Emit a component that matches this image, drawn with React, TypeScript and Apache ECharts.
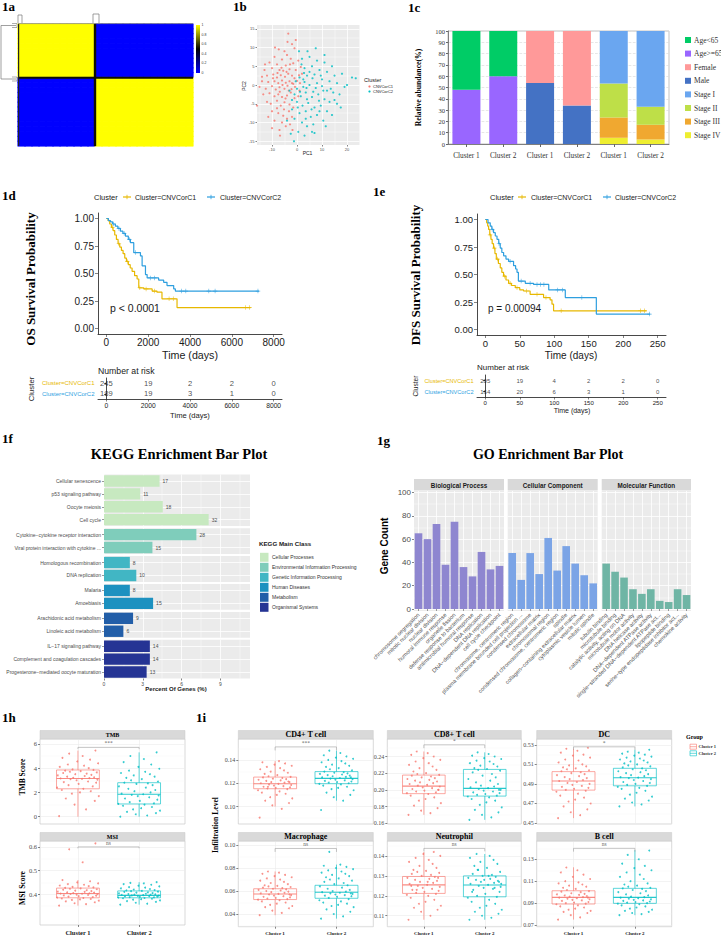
import React, { useEffect, useRef } from "react";
import * as echarts from "echarts";

const SANS = "'Liberation Sans', Arial, Helvetica, sans-serif";
const SERIF = "'Liberation Serif', 'Times New Roman', Times, serif";
const RED = "#F8766D";
const CYAN = "#00BFC4";
const KM1 = "#E7B800";
const KM2 = "#2E9FDF";
const PLUS = "path://M0,4.3H10V5.7H0Z M4.3,0H5.7V10H4.3Z";

// ---------- 1a consensus matrix ----------
const SAMPLE_CLUSTER = [1,1,1,1,1,1,1,1,1,1,1,2,2,2,2,2,2,2,2,2,2,2,2,2,2];
const COLORBAR_LABELS = ["1", "0.8", "0.6", "0.4", "0.2", "0"];

// ---------- 1b PCA ----------
const PCA_C1 = [[-3.5,13.7],[-2,10.9],[-7.3,9.5],[-5,9],[-1,9.8],[-4,8],[-9,7.5],[-6,6.8],[-2.5,7],[-11,6],[-8,5.5],[-4.5,5.2],[-1.5,5.8],[0.5,6.5],[-13,4],[-10,4.5],[-7,4],[-5.5,3.8],[-3,4.2],[-0.5,4],[1.5,4.8],[-12,2.5],[-9.5,2.8],[-8,2],[-6.5,2.6],[-4.8,2.2],[-3.5,3],[-2,2.5],[-1,1.8],[0.8,2.6],[2,3],[-14,1],[-11.5,0.8],[-9,1],[-7.5,0.5],[-6,1.2],[-4.5,0.6],[-3,1],[-1.5,0.3],[0,1.1],[1.2,0.5],[-15,-0.5],[-12.5,-1],[-10,-0.3],[-8.5,-1.2],[-7,-0.6],[-5,-1],[-3.8,-0.2],[-2.2,-1.1],[-0.8,-0.5],[1,-1.5],[-13.5,-2.5],[-11,-2.2],[-9,-3],[-7.5,-2.5],[-6,-3.2],[-4,-2.8],[-2.5,-2],[-1,-3.5],[-12,-4.5],[-10.5,-5],[-8,-4.2],[-6.5,-5.5],[-5,-4.6],[-3,-5.2],[-1.5,-6],[-16,-5.5],[-10,-7],[-7.5,-7.5],[-5.5,-8.2],[-3.2,-7],[-9,-9.5],[-6,-10],[-4,-9],[-2,-8.5],[-10,-11.5],[-7,-12],[-4.5,-11],[-8,-6.2],[-11.5,-8.5],[-2.8,-10.5],[-6.8,-13.5],[-14,2.2],[-12.8,5.5],[-3.8,11.5],[-8.8,10],[-0.5,12],[-5.2,-6.5],[0.5,-3],[-1.8,-12],[-6.2,4.6],[-4.2,3.5],[-2.8,5.5],[-7.8,3.2],[-5.8,0],[-3.3,-1.5],[-9.6,1.8],[-6.9,-1.8],[-2,0.5],[-4.6,-3.6]];
const PCA_C2 = [[2,7],[5,7.5],[8,6.5],[11,6],[14,5],[18,3],[22,2],[23.5,1.8],[3,4.5],[6,5],[9,4],[12,3.5],[15,2.5],[1,2],[4,2.5],[7,2.8],[10,1.5],[13,1],[16,0.5],[19,-0.5],[0,-1],[2.5,-0.5],[5,0],[7.5,-0.8],[10,-0.3],[12,-1.5],[14.5,-2],[17,-2.5],[-1,-2.5],[1.5,-3],[3.5,-2],[6,-3.2],[8.5,-2.5],[11,-3.8],[13,-4.5],[16,-5],[0,-4.5],[2.2,-5.5],[4.5,-4.8],[7,-6],[9.5,-5.5],[12,-7],[14,-8],[-2,-6.5],[1,-7.5],[3.5,-7],[5.5,-8.5],[8,-8],[10.5,-9.5],[-1,-9],[2,-10],[4,-11],[6.5,-10.5],[-2.5,-13],[0.5,-12.5],[3,-13.5],[6,-12.5],[-1.2,-15],[5,3.5],[3,0.8],[8,0.5],[6.5,-1.8],[4,-3.8],[9,-7],[11.5,-11],[17.5,-6],[20,0],[1.8,5.5],[4.2,9],[7.5,9.8],[0.8,9],[9.5,2.5],[-0.5,1],[-3,-1.5],[-2,-4],[2.5,1.5],[5.8,-6.5],[10.5,-1.5],[15,-4],[7,-12.8],[-4,-9.5],[11,8],[13.5,-1],[3.5,-9],[1.2,-1.8],[3.8,-0.8],[6.2,1.8],[8.8,-4.2],[0.3,-6],[2.8,3.2]];
const PCA_X_TICKS = [-10, 0, 10, 20];
const PCA_X_MINOR = [-15, -5, 5, 15];
const PCA_Y_TICKS = [-15, -10, -5, 0, 5, 10, 15];
const PCA_Y_MINOR = [-12.5, -7.5, -2.5, 2.5, 7.5, 12.5];

// ---------- 1c composition ----------
const COMP_GROUPS = ["Age", "Age", "Sex", "Sex", "Stage", "Stage"];
const COMP_LABELS = ["Cluster 1", "Cluster 2", "Cluster 1", "Cluster 2", "Cluster 1", "Cluster 2"];
const AGE_GE65 = [48, 60, 0, 0, 0, 0];
const AGE_LT65 = [52, 40, 0, 0, 0, 0];
const MALE = [0, 0, 54, 34, 0, 0];
const FEMALE = [0, 0, 46, 66, 0, 0];
const STAGE_IV = [0, 0, 0, 0, 5.5, 4];
const STAGE_III = [0, 0, 0, 0, 18, 13];
const STAGE_II = [0, 0, 0, 0, 30, 16];
const STAGE_I = [0, 0, 0, 0, 46.5, 67];
const COMP_LEGEND = ["Age<65", "Age>=65", "Female", "Male", "Stage I", "Stage II", "Stage III", "Stage IV"];
const COMP_COLOR: any = { "Age<65": "#00CC66", "Age>=65": "#9966FF", "Female": "#FF9999", "Male": "#4472C4", "Stage I": "#6AA6F0", "Stage II": "#BEDF48", "Stage III": "#F0A830", "Stage IV": "#EEEE30" };

// ---------- 1d / 1e survival ----------
const OS_C1 = [[0,1],[80,0.98],[160,0.95],[240,0.92],[320,0.89],[400,0.85],[480,0.81],[560,0.77],[640,0.74],[720,0.71],[800,0.68],[880,0.64],[960,0.61],[1050,0.58],[1140,0.55],[1230,0.52],[1350,0.48],[1470,0.45],[1550,0.37],[1790,0.36],[2190,0.34],[2420,0.33],[2660,0.27],[3380,0.19],[6900,0.19]];
const OS_C2 = [[0,1],[100,0.98],[200,0.97],[300,0.95],[430,0.93],[550,0.91],[670,0.885],[790,0.865],[910,0.84],[1050,0.81],[1150,0.78],[1310,0.69],[1630,0.66],[1710,0.57],[1870,0.49],[1950,0.46],[2500,0.44],[2740,0.42],[2900,0.39],[3220,0.36],[3300,0.34],[7300,0.34]];
const OS_C1_CENSOR = [[300,0.92],[600,0.77],[1000,0.61],[1600,0.37],[1900,0.36],[2300,0.34],[3000,0.27],[3200,0.27],[6650,0.19],[6850,0.19]];
const OS_C2_CENSOR = [[350,0.95],[600,0.91],[850,0.865],[1100,0.81],[1400,0.69],[2100,0.46],[2300,0.46],[3600,0.34],[3800,0.34],[4900,0.34],[5200,0.34],[7250,0.34]];
const OS_TICKS = [0, 2000, 4000, 6000, 8000];
const OS_RISK_C1 = [245, 19, 2, 2, 0];
const OS_RISK_C2 = [189, 19, 3, 1, 0];

const DFS_C1 = [[0,1],[2,0.97],[3.5,0.94],[4.8,0.91],[6.5,0.86],[8.2,0.82],[10,0.78],[12,0.74],[14,0.69],[16,0.64],[19,0.6],[21.7,0.56],[24,0.52],[26.5,0.485],[30,0.45],[33.8,0.42],[38,0.4],[43.5,0.38],[50,0.36],[55.5,0.35],[65,0.32],[84.5,0.29],[94,0.27],[96.7,0.23],[99,0.17],[234,0.17]];
const DFS_C2 = [[0,1],[4,0.97],[7.2,0.94],[9.5,0.91],[12,0.88],[14.5,0.85],[17,0.82],[19.5,0.78],[21.7,0.74],[24,0.7],[26.6,0.67],[30,0.64],[33.8,0.62],[41,0.58],[44,0.55],[46,0.52],[48,0.44],[58,0.42],[70,0.41],[92,0.36],[116,0.29],[161,0.14],[239,0.14]];
const DFS_C1_CENSOR = [[7,0.86],[13,0.74],[18,0.64],[28,0.485],[36,0.42],[46,0.38],[60,0.35],[75,0.32],[88,0.29],[110,0.17],[225,0.17],[231,0.17]];
const DFS_C2_CENSOR = [[10,0.91],[20,0.78],[36,0.62],[52,0.44],[65,0.42],[75,0.41],[80,0.41],[85,0.41],[105,0.36],[112,0.36],[140,0.29],[238,0.14]];
const DFS_TICKS = [0, 50, 100, 150, 200, 250];
const DFS_RISK_C1 = [205, 19, 4, 2, 2, 0];
const DFS_RISK_C2 = [164, 20, 6, 3, 1, 0];
const RISK_ROWS = ["Cluster=CNVCorC1", "Cluster=CNVCorC2"];

// ---------- 1f KEGG ----------
const KEGG_TERMS = ["Cellular senescence", "p53 signaling pathway", "Oocyte meiosis", "Cell cycle", "Cytokine\u2212cytokine receptor interaction", "Viral protein interaction with cytokine ...", "Homologous recombination", "DNA replication", "Malaria", "Amoebiasis", "Arachidonic acid metabolism", "Linoleic acid metabolism", "IL\u221217 signaling pathway", "Complement and coagulation cascades", "Progesterone\u2212mediated oocyte maturation"];
const KEGG_PCT = [4.3, 2.8, 4.55, 8.1, 7.15, 3.75, 2.0, 2.5, 2.0, 3.8, 2.25, 1.5, 3.55, 3.55, 3.3];
const KEGG_COUNT = [17, 11, 18, 32, 28, 15, 8, 10, 8, 15, 9, 6, 14, 14, 13];
const KEGG_CLASS = [0, 0, 0, 0, 1, 1, 2, 2, 3, 3, 4, 4, 5, 5, 5];
const KEGG_CLASSES = ["Cellular Processes", "Environmental Information Processing", "Genetic Information Processing", "Human Diseases", "Metabolism", "Organismal Systems"];
const KEGG_COLORS = ["#C7E9C0", "#7FCDBB", "#41B6C4", "#1D91C0", "#225EA8", "#253494"];
const KEGG_TICKS = [0, 3, 6, 9];

// ---------- 1g GO ----------
const GO_BP_TERMS = ["chromosome segregation", "mitotic nuclear division", "nuclear division", "humoral immune response", "organelle fission", "defense response to bacterium", "antimicrobial humoral response", "DNA replication", "DNA\u2212dependent DNA replication", "cell cycle checkpoint"];
const GO_BP_COUNT = [65, 60, 73, 38, 75, 36, 28, 49, 34, 37];
const GO_CC_TERMS = ["chromosome, centromeric region", "plasma membrane bounded cell projection ...", "condensed chromosome", "extracellular matrix", "chromosomal region", "condensed chromosome, centromeric region", "spindle", "collagen\u2212containing extracellular matrix", "cytoplasmic vesicle lumen", "mitotic spindle"];
const GO_CC_COUNT = [48, 25, 48, 30, 61, 33, 54, 39, 29, 22];
const GO_MF_TERMS = ["tubulin binding", "microtubule binding", "catalytic activity, acting on DNA", "microtubule motor activity", "DNA helicase activity", "DNA\u2212dependent ATPase activity", "single\u2212stranded DNA\u2212dependent ATPase act...", "lipopeptide binding", "serine\u2212type endopeptidase inhibitor act...", "chemokine activity"];
const GO_MF_COUNT = [39, 32, 27, 17, 13, 17, 7, 6, 17, 12];
const GO_TICKS = [0, 20, 40, 60, 80, 100];
const GO_MINOR = [10, 30, 50, 70, 90];

// ---------- 1h / 1i boxplots ----------
const JIT = [-0.28,0.12,-0.05,0.25,-0.18,0.31,-0.09,0.03,0.19,-0.24,0.08,-0.31,0.22,-0.14,0.01,0.27,-0.21,0.15,-0.02,0.29,-0.11,0.06,-0.26,0.17,-0.07,0.24,-0.16,0.1,-0.3,0.2,-0.04,0.13,-0.22,0.28,-0.12,0.04,-0.19,0.23,-0.08,0.16,-0.27,0.09,-0.15,0.3,-0.01,0.18,-0.23,0.07,-0.13,0.26];

const TMB_C1 = [0.05,0.6,1.0,1.3,1.5,1.7,1.9,2.0,2.1,2.2,2.3,2.4,2.5,2.6,2.7,2.8,2.85,2.9,3.0,3.05,3.1,3.12,3.15,3.18,3.2,3.25,3.3,3.35,3.4,3.45,3.5,3.55,3.6,3.65,3.7,3.75,3.8,3.85,3.9,4.0,4.1,4.2,4.3,4.4,4.55,4.7,4.85,5.0,5.2,5.45];
const TMB_C2 = [0.0,0.1,0.2,0.3,0.4,0.5,0.6,0.7,0.8,0.9,1.0,1.05,1.1,1.2,1.3,1.4,1.5,1.6,1.7,1.75,1.8,1.85,1.9,2.0,2.1,2.2,2.3,2.4,2.5,2.6,2.7,2.75,2.8,2.9,3.0,3.1,3.2,3.3,3.4,3.5,3.6,3.7,3.8,3.95,4.1,4.3,4.5,4.75,5.0,5.3];
const TMB_BOX = [[0, 2.3, 3.15, 3.85, 5.45], [0, 1.05, 1.85, 2.8, 5.3]];
const MSI_C1 = [0.352,0.358,0.362,0.366,0.37,0.373,0.376,0.378,0.38,0.382,0.384,0.386,0.388,0.39,0.392,0.394,0.395,0.397,0.398,0.4,0.401,0.402,0.403,0.404,0.405,0.407,0.408,0.41,0.411,0.413,0.415,0.417,0.419,0.421,0.423,0.425,0.427,0.429,0.431,0.434,0.437,0.44,0.443,0.446,0.45,0.455,0.46,0.535,0.59,0.615];
const MSI_C2 = [0.356,0.36,0.364,0.368,0.371,0.374,0.377,0.379,0.381,0.383,0.384,0.386,0.387,0.388,0.389,0.39,0.391,0.392,0.393,0.394,0.395,0.396,0.397,0.398,0.399,0.4,0.401,0.402,0.404,0.405,0.407,0.408,0.41,0.411,0.413,0.414,0.416,0.418,0.42,0.422,0.425,0.428,0.43,0.433,0.436,0.44,0.443,0.446,0.448,0.451];
const MSI_BOX = [[0.352, 0.385, 0.403, 0.426, 0.46], [0.356, 0.385, 0.395, 0.414, 0.451]];
const CD4_C1 = [0.0905,0.098,0.101,0.103,0.105,0.107,0.108,0.11,0.111,0.112,0.113,0.114,0.115,0.1155,0.116,0.1165,0.117,0.1175,0.118,0.1185,0.119,0.1195,0.12,0.1205,0.121,0.1215,0.122,0.1225,0.123,0.1235,0.124,0.1245,0.125,0.1255,0.126,0.127,0.128,0.129,0.13,0.131,0.132,0.133,0.134,0.135,0.136,0.137,0.138,0.139,0.117,0.121];
const CD4_C2 = [0.097,0.105,0.108,0.11,0.112,0.114,0.115,0.116,0.117,0.118,0.119,0.1195,0.12,0.1205,0.121,0.1215,0.122,0.1225,0.123,0.1235,0.124,0.1245,0.125,0.1255,0.126,0.1265,0.127,0.1275,0.128,0.1285,0.129,0.1295,0.13,0.131,0.132,0.133,0.134,0.135,0.136,0.137,0.138,0.139,0.14,0.141,0.142,0.143,0.144,0.146,0.148,0.125];
const CD4_BOX = [[0.1, 0.1153, 0.1196, 0.1253, 0.139], [0.105, 0.1196, 0.1242, 0.13, 0.148]];
const CD8_C1 = [0.17,0.172,0.175,0.178,0.181,0.184,0.187,0.189,0.191,0.193,0.195,0.196,0.197,0.198,0.199,0.2,0.201,0.202,0.203,0.204,0.205,0.206,0.207,0.208,0.209,0.21,0.211,0.212,0.213,0.214,0.215,0.216,0.217,0.218,0.219,0.22,0.222,0.224,0.226,0.228,0.23,0.232,0.234,0.236,0.238,0.24,0.242,0.244,0.246,0.2];
const CD8_C2 = [0.164,0.167,0.17,0.173,0.176,0.179,0.182,0.185,0.187,0.189,0.191,0.192,0.193,0.194,0.195,0.196,0.197,0.198,0.199,0.2,0.201,0.202,0.203,0.204,0.205,0.207,0.209,0.211,0.213,0.215,0.217,0.219,0.221,0.223,0.224,0.225,0.226,0.228,0.229,0.231,0.232,0.234,0.235,0.237,0.238,0.24,0.241,0.243,0.245,0.2];
const CD8_BOX = [[0.17, 0.1954, 0.2044, 0.2177, 0.246], [0.164, 0.1925, 0.2017, 0.2245, 0.245]];
const DC_C1 = [0.455,0.458,0.461,0.464,0.467,0.47,0.472,0.474,0.476,0.478,0.48,0.482,0.483,0.484,0.485,0.486,0.487,0.488,0.489,0.49,0.491,0.492,0.493,0.494,0.495,0.496,0.497,0.498,0.499,0.5,0.501,0.502,0.503,0.504,0.505,0.506,0.507,0.508,0.509,0.51,0.512,0.514,0.515,0.517,0.519,0.52,0.522,0.524,0.526,0.527];
const DC_C2 = [0.467,0.469,0.471,0.473,0.475,0.477,0.479,0.481,0.483,0.485,0.486,0.487,0.488,0.489,0.49,0.491,0.492,0.493,0.494,0.495,0.496,0.4965,0.497,0.498,0.499,0.5,0.501,0.502,0.503,0.504,0.505,0.506,0.507,0.508,0.509,0.51,0.511,0.512,0.513,0.514,0.515,0.516,0.517,0.518,0.519,0.52,0.521,0.522,0.523,0.525];
const DC_BOX = [[0.455, 0.4837, 0.493, 0.5026, 0.526], [0.467, 0.4881, 0.4964, 0.506, 0.525]];
const MAC_C1 = [0.039,0.041,0.043,0.045,0.046,0.047,0.048,0.049,0.05,0.051,0.052,0.0525,0.053,0.0535,0.054,0.0545,0.055,0.0555,0.056,0.0565,0.057,0.0575,0.058,0.0585,0.059,0.0595,0.06,0.0605,0.061,0.0615,0.062,0.0625,0.063,0.0635,0.064,0.0645,0.065,0.066,0.067,0.068,0.069,0.07,0.071,0.072,0.073,0.074,0.075,0.076,0.077,0.057];
const MAC_C2 = [0.036,0.038,0.04,0.042,0.044,0.046,0.047,0.048,0.049,0.05,0.051,0.052,0.053,0.054,0.055,0.0555,0.056,0.0565,0.057,0.0575,0.058,0.0585,0.059,0.0595,0.06,0.061,0.062,0.063,0.064,0.065,0.066,0.067,0.068,0.069,0.07,0.071,0.072,0.073,0.074,0.075,0.076,0.077,0.078,0.079,0.08,0.081,0.082,0.083,0.094,0.058];
const MAC_BOX = [[0.039, 0.0526, 0.0574, 0.062, 0.077], [0.036, 0.0537, 0.059, 0.065, 0.083]];
const NEU_C1 = [0.108,0.11,0.112,0.113,0.114,0.115,0.116,0.117,0.118,0.119,0.12,0.1205,0.121,0.1215,0.122,0.1225,0.123,0.1235,0.124,0.1245,0.125,0.1255,0.126,0.1265,0.127,0.1275,0.128,0.1285,0.129,0.1295,0.13,0.1305,0.131,0.1315,0.132,0.1325,0.133,0.134,0.135,0.136,0.137,0.138,0.139,0.14,0.141,0.142,0.125,0.127,0.123,0.129];
const NEU_C2 = [0.108,0.109,0.11,0.111,0.112,0.113,0.114,0.115,0.116,0.117,0.118,0.119,0.1195,0.12,0.121,0.122,0.123,0.1235,0.124,0.1245,0.125,0.1255,0.126,0.1265,0.127,0.1275,0.128,0.1285,0.129,0.1295,0.13,0.1305,0.131,0.132,0.133,0.134,0.135,0.136,0.137,0.138,0.139,0.14,0.141,0.126,0.128,0.124,0.122,0.13,0.133,0.127];
const NEU_BOX = [[0.108, 0.1212, 0.1255, 0.1297, 0.142], [0.108, 0.1195, 0.1254, 0.13, 0.141]];
const BC_C1 = [0.075,0.077,0.079,0.081,0.082,0.083,0.084,0.085,0.086,0.087,0.088,0.089,0.0895,0.09,0.0905,0.091,0.092,0.0925,0.093,0.0935,0.094,0.0945,0.095,0.0955,0.096,0.0965,0.097,0.0975,0.098,0.0985,0.099,0.1,0.1005,0.101,0.102,0.103,0.104,0.105,0.106,0.107,0.108,0.109,0.11,0.112,0.114,0.116,0.118,0.12,0.1225,0.095];
const BC_C2 = [0.079,0.08,0.081,0.082,0.083,0.084,0.085,0.086,0.087,0.088,0.089,0.0895,0.09,0.0905,0.091,0.0915,0.092,0.0925,0.093,0.0935,0.094,0.0945,0.095,0.0955,0.096,0.097,0.098,0.099,0.1,0.101,0.102,0.103,0.1035,0.104,0.105,0.106,0.107,0.108,0.11,0.112,0.114,0.116,0.118,0.12,0.122,0.124,0.126,0.13,0.134,0.138];
const BC_BOX = [[0.075, 0.0892, 0.0953, 0.1013, 0.1227], [0.079, 0.0898, 0.0953, 0.1035, 0.1384]];

function buildOption() {
  const grid: any[] = [], xAxis: any[] = [], yAxis: any[] = [], series: any[] = [], graphic: any[] = [], visualMap: any[] = [];
  const G = (left: number, top: number, width: number, height: number, bg?: string, border?: string) => {
    grid.push({ left, top, width, height, show: !!(bg || border), backgroundColor: bg || "transparent", borderColor: border || "transparent", borderWidth: border ? 0.7 : 0 });
    return grid.length - 1;
  };
  const X = (c: any) => { xAxis.push(c); return xAxis.length - 1; };
  const Y = (c: any) => { yAxis.push(c); return yAxis.length - 1; };
  const T = (x: number, y: number, text: string, o: any = {}) => {
    graphic.push({ type: "text", x, y, rotation: o.rot || 0, z: 100, silent: true,
      style: { text, fontSize: o.size || 8, fontFamily: o.font || SANS, fontWeight: o.bold ? "bold" : "normal", fill: o.color || "#1A1A1A",
        align: o.align || "left", verticalAlign: o.va || "middle", textAlign: o.align || "left", textVerticalAlign: o.va || "middle" } });
  };
  const RECT = (x: number, y: number, w: number, h: number, fill: any, stroke?: string, lw = 0.6) => {
    graphic.push({ type: "rect", z: 90, silent: true, shape: { x, y, width: w, height: h }, style: { fill, stroke: stroke || null, lineWidth: stroke ? lw : 0 } });
  };
  const PL = (points: number[][], stroke: string, lw = 0.8) => {
    graphic.push({ type: "polyline", z: 95, silent: true, shape: { points }, style: { stroke, lineWidth: lw, fill: null } });
  };
  const VA = (gi: number, min: number, max: number, ticks: any, o: any = {}) => ({
    type: "value", gridIndex: gi, min, max, position: o.pos,
    axisLine: { show: !!o.line, onZero: false, lineStyle: { color: o.lineColor || "#1A1A1A", width: o.lineWidth || 0.8 } },
    axisTick: { show: !!o.tick, customValues: ticks, length: o.tickLen || 2.5, lineStyle: { color: o.tickColor || "#333333", width: 0.6 } },
    axisLabel: { show: !!o.label, customValues: ticks, formatter: o.fmt || ((v: number) => String(v)), fontSize: o.size || 7, fontFamily: o.font || SANS, fontWeight: o.bold ? "bold" : "normal", color: o.color || "#4D4D4D", margin: o.margin == null ? 3 : o.margin },
    splitLine: { show: !!o.split, lineStyle: { color: o.splitColor || "#FFFFFF", width: o.splitWidth || 0.8, type: o.splitType || "solid" } },
    minorTick: { show: false }, minorSplitLine: { show: false },
  });

  // panel labels
  [["1a", 2, 6], ["1b", 233, 6], ["1c", 408, 7], ["1d", 2, 195], ["1e", 373, 191], ["1f", 2, 438], ["1g", 377, 440], ["1h", 2, 717], ["1i", 196, 717]].forEach((p: any) =>
    T(p[1], p[2], p[0], { size: 13, bold: true, font: SERIF, color: "#000" }));

  // ================= 1a heatmap =================
  const gA = G(18, 24, 175, 122);
  const ids = SAMPLE_CLUSTER.map((_, i) => "S" + (i + 1));
  const xa = X({ type: "category", gridIndex: gA, data: ids, show: false });
  const ya = Y({ type: "category", gridIndex: gA, data: ids, inverse: true, show: false });
  const heat: any[] = [];
  SAMPLE_CLUSTER.forEach((ci, i) => SAMPLE_CLUSTER.forEach((cj, j) => {
    const v = ci === cj ? 1 : 0;
    heat.push({ value: [i, j, v], itemStyle: { borderColor: v ? "#FFFF00" : "#0000FF", borderWidth: 0.6 } });
  }));
  series.push({ type: "heatmap", xAxisIndex: xa, yAxisIndex: ya, data: heat });
  visualMap.push({ show: false, type: "continuous", min: 0, max: 1, seriesIndex: series.length - 1, inRange: { color: ["#0000FF", "#000000", "#FFFF00"] } });
  PL([[95, 24], [95, 146]], "#111100", 2.4);
  PL([[18, 77.7], [193, 77.7]], "#111100", 2);
  PL([[18.6, 24], [18.6, 146]], "#222222", 1.2);
  PL([[18, 23.6], [193, 23.6]], "#888888", 0.8);
  PL([[18, 23], [18, 15], [22, 15], [22, 23]], "#777777", 0.7);
  PL([[93, 23], [93, 14], [99, 14], [99, 23]], "#777777", 0.7);
  PL([[16, 25.5], [1, 25.5], [1, 79], [16, 79]], "#777777", 0.7);
  PL([[12, 23.5], [17, 23.5], [17, 27.5], [12, 27.5]], "#777777", 0.6);
  PL([[12, 77], [17, 77], [17, 81], [12, 81]], "#777777", 0.6);
  RECT(196, 25, 4, 48, new echarts.graphic.LinearGradient(0, 0, 0, 1, [{ offset: 0, color: "#FFFF00" }, { offset: 0.5, color: "#000000" }, { offset: 1, color: "#0000FF" }]));
  COLORBAR_LABELS.forEach((l, k) => T(201.5, 25 + (k * 48) / 5, l, { size: 3.5, color: "#333" }));

  // ================= 1b PCA =================
  const gB = G(257, 25, 102.5, 120, "#EBEBEB");
  const xb = X(VA(gB, -16, 25, PCA_X_TICKS, { split: true, tick: true, label: true, size: 4, tickLen: 1.5, margin: 2.5 }));
  X(VA(gB, -16, 25, PCA_X_MINOR, { split: true, splitWidth: 0.4 }));
  const yb = Y(VA(gB, -16, 16, PCA_Y_TICKS, { split: true, tick: true, label: true, size: 4, tickLen: 1.5, margin: 2.5 }));
  Y(VA(gB, -16, 16, PCA_Y_MINOR, { split: true, splitWidth: 0.4 }));
  series.push({ type: "scatter", xAxisIndex: xb, yAxisIndex: yb, data: PCA_C1, symbolSize: 2.2, itemStyle: { color: RED } });
  series.push({ type: "scatter", xAxisIndex: xb, yAxisIndex: yb, data: PCA_C2, symbolSize: 2.2, itemStyle: { color: CYAN } });
  T(307.5, 153, "PC1", { size: 5, align: "center" });
  T(244, 86, "PC2", { size: 5, align: "center", rot: Math.PI / 2 });
  T(364, 80, "Cluster", { size: 5.5 });
  graphic.push({ type: "circle", z: 100, shape: { cx: 369.5, cy: 86.5, r: 1.1 }, style: { fill: RED } });
  graphic.push({ type: "circle", z: 100, shape: { cx: 369.5, cy: 91.5, r: 1.1 }, style: { fill: CYAN } });
  T(373, 86.5, "CNVCorC1", { size: 4 });
  T(373, 91.5, "CNVCorC2", { size: 4 });

  // ================= 1c composition =================
  const gC = G(448, 31, 221, 113, undefined, "#AAAAAA");
  const compIds = COMP_LABELS.map((l, i) => COMP_GROUPS[i] + " " + l);
  const xc = X({ type: "category", gridIndex: gC, data: compIds,
    axisLine: { show: true, lineStyle: { color: "#666", width: 0.8 } },
    axisTick: { show: true, alignWithLabel: true, length: 3, lineStyle: { color: "#666" } },
    axisLabel: { formatter: (_v: any, i: number) => COMP_LABELS[i], fontFamily: SERIF, fontSize: 7.3, color: "#333", margin: 8, interval: 0 } });
  const yc = Y({ type: "value", gridIndex: gC, min: 0, max: 100, interval: 10,
    axisLine: { show: true, onZero: false, lineStyle: { color: "#666", width: 0.8 } },
    axisTick: { show: true, length: 2, lineStyle: { color: "#666" } },
    axisLabel: { fontFamily: SERIF, fontSize: 6.5, color: "#333", margin: 3 },
    splitLine: { show: true, lineStyle: { color: "#DDDDDD", width: 0.7, type: "dashed" } } });
  const stack: any[] = [["Age>=65", AGE_GE65], ["Age<65", AGE_LT65], ["Male", MALE], ["Female", FEMALE], ["Stage IV", STAGE_IV], ["Stage III", STAGE_III], ["Stage II", STAGE_II], ["Stage I", STAGE_I]];
  stack.forEach(([name, d]) => series.push({ type: "bar", name, stack: "comp", xAxisIndex: xc, yAxisIndex: yc, data: d, barWidth: 28, itemStyle: { color: COMP_COLOR[name] } }));
  COMP_LEGEND.forEach((name, k) => {
    const y = 40 + k * 13.6;
    RECT(685, y - 3, 6, 6, COMP_COLOR[name]);
    T(694, y, name, { size: 7.5, font: SERIF, color: "#333" });
  });
  T(418, 87.5, "Relative abundance(%)", { size: 7.7, bold: true, font: SERIF, align: "center", rot: Math.PI / 2, color: "#000" });

  // ================= 1d / 1e survival =================
  const km = (c: any) => {
    const g = G(c.left, c.top, c.width, c.height);
    const xi = X(VA(g, c.xmin, c.xmax, c.ticks, { line: true, tick: true, label: true, size: c.tickSize, color: "#1A1A1A", margin: 3, tickLen: 3 }));
    const yi = Y(VA(g, -0.05, 1.05, [0, 0.25, 0.5, 0.75, 1], { line: true, tick: true, label: true, size: c.tickSize, color: "#1A1A1A", margin: 4, tickLen: 3, fmt: (v: number) => v.toFixed(2) }));
    [[c.c1, c.c1c, KM1], [c.c2, c.c2c, KM2]].forEach(([d, cens, col]: any) => {
      series.push({ type: "line", xAxisIndex: xi, yAxisIndex: yi, data: d, step: "end", symbol: "none", lineStyle: { color: col, width: 1.2 }, itemStyle: { color: col }, z: 3 });
      series.push({ type: "scatter", xAxisIndex: xi, yAxisIndex: yi, data: cens, symbol: PLUS, symbolSize: 4.5, itemStyle: { color: col }, z: 4 });
    });
    const tg = G(c.left, c.ttop, c.width, c.theight);
    const txi = X(VA(tg, c.xmin, c.xmax, c.ticks, { line: true, tick: true, label: true, size: c.tTickSize, color: "#1A1A1A", margin: 3, tickLen: 2.5 }));
    const tyi = Y({ type: "category", gridIndex: tg, data: RISK_ROWS, inverse: true,
      axisLine: { show: true, lineStyle: { color: "#1A1A1A", width: 0.8 } },
      axisTick: { show: true, alignWithLabel: true, length: 2, lineStyle: { color: "#333" } },
      axisLabel: { fontSize: c.rowSize, fontFamily: SANS, margin: 3.5, color: (v: string) => (v === RISK_ROWS[0] ? KM1 : KM2) } });
    const pts: any[] = [];
    c.ticks.forEach((t: number, k: number) => { pts.push([t, 0, c.r1[k]]); pts.push([t, 1, c.r2[k]]); });
    series.push({ type: "scatter", xAxisIndex: txi, yAxisIndex: tyi, data: pts, symbolSize: 1, itemStyle: { color: "rgba(0,0,0,0)" },
      label: { show: true, position: "inside", formatter: (p: any) => String(p.value[2]), fontSize: c.numSize, fontFamily: SANS, color: "#1A1A1A" } });
  };
  km({ left: 98, top: 213, width: 184, height: 121, xmin: -400, xmax: 8400, ticks: OS_TICKS, tickSize: 10, c1: OS_C1, c2: OS_C2, c1c: OS_C1_CENSOR, c2c: OS_C2_CENSOR,
    ttop: 378, theight: 21, tTickSize: 6.7, rowSize: 6, numSize: 7.6, r1: OS_RISK_C1, r2: OS_RISK_C2 });
  km({ left: 477, top: 214, width: 189, height: 121, xmin: -12, xmax: 262, ticks: DFS_TICKS, tickSize: 9.5, c1: DFS_C1, c2: DFS_C2, c1c: DFS_C1_CENSOR, c2c: DFS_C2_CENSOR,
    ttop: 375, theight: 22, tTickSize: 6, rowSize: 5.6, numSize: 6, r1: DFS_RISK_C1, r2: DFS_RISK_C2 });
  const kmLegend = (x0: number, xl1: number, xt1: number, xl2: number, xt2: number, y: number) => {
    T(x0, y, "Cluster", { size: 7.5 });
    PL([[xl1, y], [xl1 + 8, y]], KM1, 1.2); PL([[xl1 + 4, y - 2.2], [xl1 + 4, y + 2.2]], KM1, 0.8);
    T(xt1, y, "Cluster=CNVCorC1", { size: 7 });
    PL([[xl2, y], [xl2 + 8, y]], KM2, 1.2); PL([[xl2 + 4, y - 2.2], [xl2 + 4, y + 2.2]], KM2, 0.8);
    T(xt2, y, "Cluster=CNVCorC2", { size: 7 });
  };
  kmLegend(94, 123, 135, 207, 220, 197);
  kmLegend(490, 518, 531, 603, 615, 197);
  T(30, 279, "OS Survival Probability", { size: 13, bold: true, font: SERIF, align: "center", rot: Math.PI / 2, color: "#000" });
  T(415, 275, "DFS Survival Probability", { size: 13, bold: true, font: SERIF, align: "center", rot: Math.PI / 2, color: "#000" });
  T(190, 355, "Time (days)", { size: 10.7, align: "center" });
  T(571, 355, "Time (days)", { size: 10, align: "center" });
  T(110, 308, "p < 0.0001", { size: 10.5 });
  T(488, 308, "p = 0.00094", { size: 10 });
  T(98, 371, "Number at risk", { size: 8.7 });
  T(477, 367, "Number at risk", { size: 8 });
  T(190, 415, "Time (days)", { size: 7.6, align: "center" });
  T(572, 410.5, "Time (days)", { size: 7, align: "center" });
  T(31, 389, "Cluster", { size: 7.8, align: "center", rot: Math.PI / 2 });
  T(415, 386, "Cluster", { size: 6.6, align: "center", rot: Math.PI / 2 });

  // ================= 1f KEGG =================
  T(179, 454, "KEGG Enrichment Bar Plot", { size: 14.5, bold: true, font: SERIF, align: "center", color: "#000" });
  let top = 474.5;
  const U = 12.9, GAP = 2.1;
  KEGG_CLASSES.forEach((_cls, c) => {
    const idx = KEGG_CLASS.map((k, i) => (k === c ? i : -1)).filter((i) => i >= 0);
    const h = idx.length * U;
    const g = G(104, top, 146, h, "#EBEBEB");
    const last = c === KEGG_CLASSES.length - 1;
    const xi = X(VA(g, 0, 11.3, KEGG_TICKS, { split: true, tick: last, label: last, size: 5, tickLen: 2, margin: 3 }));
    X(VA(g, 0, 11.3, [1.5, 4.5, 7.5, 10.5], { split: true, splitWidth: 0.4 }));
    const yi = Y({ type: "category", gridIndex: g, inverse: true, data: idx.map((i) => KEGG_TERMS[i]),
      axisLine: { show: false }, axisTick: { show: true, alignWithLabel: true, length: 2, lineStyle: { color: "#333", width: 0.5 } },
      axisLabel: { interval: 0, fontSize: 5, fontFamily: SANS, color: "#4D4D4D", margin: 3 },
      splitLine: { show: true, alignWithLabel: true, lineStyle: { color: "#FFFFFF", width: 0.8 } } });
    series.push({ type: "bar", xAxisIndex: xi, yAxisIndex: yi, data: idx.map((i) => KEGG_PCT[i]), barWidth: "88%", itemStyle: { color: KEGG_COLORS[c] },
      label: { show: true, position: "right", distance: 3, fontSize: 5, fontFamily: SANS, color: "#4D4D4D", formatter: (p: any) => String(KEGG_COUNT[idx[p.dataIndex]]) } });
    top += h + GAP;
  });
  T(176, 689, "Percent Of Genes (%)", { size: 6, bold: true, align: "center" });
  T(259, 543, "KEGG Main Class", { size: 6.2, bold: true });
  KEGG_CLASSES.forEach((name, k) => {
    const y = 557.3 + k * 10;
    RECT(260, y - 4.5, 8.5, 9, KEGG_COLORS[k]);
    T(272, y, name, { size: 5, color: "#333" });
  });

  // ================= 1g GO =================
  T(548, 454, "GO Enrichment Bar Plot", { size: 14, bold: true, font: SERIF, align: "center", color: "#000" });
  const facets = [
    { title: "Biological Process", terms: GO_BP_TERMS, counts: GO_BP_COUNT, color: "#8E86D0", left: 414, width: 90 },
    { title: "Cellular Component", terms: GO_CC_TERMS, counts: GO_CC_COUNT, color: "#7BA4E6", left: 507.7, width: 90 },
    { title: "Molecular Function", terms: GO_MF_TERMS, counts: GO_MF_COUNT, color: "#6FB5A5", left: 601.7, width: 89.3 },
  ];
  facets.forEach((f, k) => {
    const g = G(f.left, 491, f.width, 120, "#EBEBEB");
    const xi = X({ type: "category", gridIndex: g, data: f.terms,
      axisLine: { show: false }, axisTick: { show: true, alignWithLabel: true, length: 2, lineStyle: { color: "#333", width: 0.5 } },
      axisLabel: { interval: 0, rotate: 45, fontSize: 5.6, fontFamily: SANS, color: "#4D4D4D", margin: 3 },
      splitLine: { show: true, alignWithLabel: true, lineStyle: { color: "#FFFFFF", width: 0.8 } } });
    const yi = Y(VA(g, -1.7, 101.3, GO_TICKS, { split: true, tick: k === 0, label: k === 0, size: 8, tickLen: 2, margin: 3 }));
    Y(VA(g, -1.7, 101.3, GO_MINOR, { split: true, splitWidth: 0.4 }));
    series.push({ type: "bar", xAxisIndex: xi, yAxisIndex: yi, data: f.counts, barWidth: "85%", itemStyle: { color: f.color } });
    RECT(f.left, 479, f.width, 11.5, "#D9D9D9");
    T(f.left + f.width / 2, 485, f.title, { size: 6.3, bold: true, align: "center" });
  });
  T(384, 546, "Gene Count", { size: 10, bold: true, align: "center", rot: Math.PI / 2, color: "#000" });

  // ================= 1h / 1i boxplots =================
  const boxRender = (color: string) => (_params: any, api: any) => {
    const x = api.value(0);
    const p = [1, 2, 3, 4, 5].map((d) => api.coord([x, api.value(d)]));
    const hw = api.size([0.7, 0])[0] / 2;
    const st = { stroke: color, lineWidth: 0.8, opacity: 0.8 };
    return { type: "group", children: [
      { type: "line", shape: { x1: p[0][0], y1: p[0][1], x2: p[1][0], y2: p[1][1] }, style: st },
      { type: "line", shape: { x1: p[3][0], y1: p[3][1], x2: p[4][0], y2: p[4][1] }, style: st },
      { type: "rect", shape: { x: p[3][0] - hw, y: p[3][1], width: 2 * hw, height: p[1][1] - p[3][1] }, style: { fill: "rgba(255,255,255,0)", stroke: color, lineWidth: 0.8, opacity: 0.8 } },
      { type: "line", shape: { x1: p[2][0] - hw, y1: p[2][1], x2: p[2][0] + hw, y2: p[2][1] }, style: { stroke: color, lineWidth: 1.1, opacity: 0.85 } },
    ] };
  };
  const boxPanel = (p: any) => {
    const g = G(p.left, p.top, p.width, p.height, "#FFFFFF", "#C8C8C8");
    const xi = X(VA(g, p.xmin, p.xmax, [1, 2], { split: true, splitColor: "#EBEBEB", splitWidth: 0.6, tick: p.xlab, label: p.xlab,
      fmt: (v: number) => (v === 1 ? "Cluster 1" : "Cluster 2"), font: SERIF, bold: true, size: p.xsize, color: "#1A1A1A", margin: 4, tickLen: 2 }));
    const yi = Y(VA(g, p.ymin, p.ymax, p.ticks, { split: true, splitColor: "#EBEBEB", splitWidth: 0.6, tick: true, label: true, fmt: p.fmt, font: SERIF, size: p.ysize, color: "#4D4D4D", margin: 3, tickLen: 2 }));
    Y(VA(g, p.ymin, p.ymax, p.minor, { split: true, splitColor: "#F4F4F4", splitWidth: 0.4 }));
    [[1, p.box[0], RED, p.pts[0]], [2, p.box[1], CYAN, p.pts[1]]].forEach(([x, b, col, pts]: any) => {
      series.push({ type: "custom", xAxisIndex: xi, yAxisIndex: yi, renderItem: boxRender(col), data: [[x, ...b]], encode: { x: 0, y: [1, 2, 3, 4, 5] }, z: 2 });
      series.push({ type: "scatter", xAxisIndex: xi, yAxisIndex: yi, symbolSize: 1.9, itemStyle: { color: col }, z: 3,
        data: pts.map((v: number, i: number) => [x + JIT[i % JIT.length] * p.jw, v]) });
    });
    const [sy, sd] = p.sig;
    series.push({ type: "line", xAxisIndex: xi, yAxisIndex: yi, data: [[1, sy - sd], [1, sy], [2, sy], [2, sy - sd]], symbol: "none", lineStyle: { color: "#9E9E9E", width: 0.6 }, z: 5 });
    series.push({ type: "scatter", xAxisIndex: xi, yAxisIndex: yi, data: [[1.5, sy]], symbolSize: 1, itemStyle: { color: "rgba(0,0,0,0)" }, z: 6,
      label: { show: true, position: "top", distance: 0.5, formatter: p.label, fontSize: 5.5, fontFamily: SERIF, color: "#333" } });
    RECT(p.left, p.top - 8.5, p.width, 8.5, "#D9D9D9", "#C8C8C8", 0.5);
    T(p.left + p.width / 2, p.top - 4.2, p.title, { size: p.ssize, bold: true, font: SERIF, align: "center", color: "#000" });
  };
  const f2 = (v: number) => v.toFixed(2);
  const f1 = (v: number) => v.toFixed(1);
  const f0 = (v: number) => String(v);
  boxPanel({ title: "TMB", left: 40, top: 739, width: 145, height: 85, xmin: 0.38, xmax: 2.75, ymin: -0.6, ymax: 6.4, ticks: [0, 2, 4, 6], minor: [1, 3, 5], fmt: f0,
    box: TMB_BOX, pts: [TMB_C1, TMB_C2], sig: [5.71, 0.15], label: "***", jw: 1.1, xlab: false, xsize: 6.4, ysize: 6.5, ssize: 6 });
  boxPanel({ title: "MSI", left: 40, top: 841, width: 145, height: 84, xmin: 0.38, xmax: 2.75, ymin: 0.27, ymax: 0.625, ticks: [0.4, 0.5, 0.6], minor: [0.35, 0.45, 0.55], fmt: f1,
    box: MSI_BOX, pts: [MSI_C1, MSI_C2], sig: [0.6, 0.006], label: "ns", jw: 1.1, xlab: true, xsize: 6.4, ysize: 6.5, ssize: 6 });
  const iPanels = [
    { title: "CD4+ T cell", left: 238.3, top: 739, width: 135, height: 85, ymin: 0.085, ymax: 0.158, ticks: [0.1, 0.12, 0.14], minor: [0.09, 0.11, 0.13, 0.15], box: CD4_BOX, pts: [CD4_C1, CD4_C2], sig: [0.1512, 0.003], label: "***", xlab: false },
    { title: "CD8+ T cell", left: 387.3, top: 739, width: 134, height: 85, ymin: 0.159, ymax: 0.261, ticks: [0.16, 0.18, 0.2, 0.22, 0.24], minor: [0.17, 0.19, 0.21, 0.23, 0.25], box: CD8_BOX, pts: [CD8_C1, CD8_C2], sig: [0.254, 0.004], label: "*", xlab: false },
    { title: "DC", left: 536.7, top: 739, width: 135, height: 85, ymin: 0.449, ymax: 0.536, ticks: [0.45, 0.47, 0.49, 0.51, 0.53], minor: [0.46, 0.48, 0.5, 0.52], box: DC_BOX, pts: [DC_C1, DC_C2], sig: [0.528, 0.003], label: "*", xlab: false },
    { title: "Macrophage", left: 238.3, top: 841, width: 135, height: 85.7, ymin: 0.029, ymax: 0.1035, ticks: [0.04, 0.06, 0.08, 0.1], minor: [0.03, 0.05, 0.07, 0.09], box: MAC_BOX, pts: [MAC_C1, MAC_C2], sig: [0.097, 0.003], label: "ns", xlab: true },
    { title: "Neutrophil", left: 387.3, top: 841, width: 134, height: 85.7, ymin: 0.1045, ymax: 0.1475, ticks: [0.11, 0.12, 0.13, 0.14], minor: [0.105, 0.115, 0.125, 0.135, 0.145], box: NEU_BOX, pts: [NEU_C1, NEU_C2], sig: [0.1438, 0.0015], label: "ns", xlab: true },
    { title: "B cell", left: 536.7, top: 841, width: 135, height: 85.7, ymin: 0.0685, ymax: 0.1467, ticks: [0.07, 0.09, 0.11, 0.13], minor: [0.08, 0.1, 0.12, 0.14], box: BC_BOX, pts: [BC_C1, BC_C2], sig: [0.14, 0.003], label: "ns", xlab: true },
  ];
  iPanels.forEach((p) => boxPanel({ ...p, xmin: 0.4, xmax: 2.6, fmt: f2, jw: 0.9, xsize: 5, ysize: 6, ssize: 8 }));
  T(22, 777, "TMB Score", { size: 7.5, bold: true, font: SERIF, align: "center", rot: Math.PI / 2, color: "#000" });
  T(22, 888, "MSI Score", { size: 7.5, bold: true, font: SERIF, align: "center", rot: Math.PI / 2, color: "#000" });
  T(215, 825, "Infiltration Level", { size: 7.6, bold: true, font: SERIF, align: "center", rot: Math.PI / 2, color: "#000" });
  T(686, 737, "Group", { size: 6, bold: true, font: SERIF, color: "#000" });
  [["Cluster 1", RED, 746.7], ["Cluster 2", CYAN, 753.3]].forEach(([name, col, y]: any) => {
    RECT(690, y - 2.5, 6.5, 5, "rgba(255,255,255,0)", col, 0.6);
    PL([[690, y], [696.5, y]], col, 0.6);
    T(698.5, y, name, { size: 4.5, bold: true, font: SERIF, color: "#333" });
  });

  return { animation: false, backgroundColor: "#FFFFFF", textStyle: { fontFamily: SANS }, grid, xAxis, yAxis, series, graphic, visualMap };
}

export default function App() {
  const ref = useRef<HTMLDivElement>(null);
  useEffect(() => {
    if (!ref.current) return;
    const chart = echarts.init(ref.current, null, { renderer: "svg" });
    chart.setOption(buildOption() as any);
    return () => chart.dispose();
  }, []);
  return <div ref={ref} style={{ position: "absolute", left: 0, top: 0, width: 721, height: 937, background: "#fff" }} />;
}
